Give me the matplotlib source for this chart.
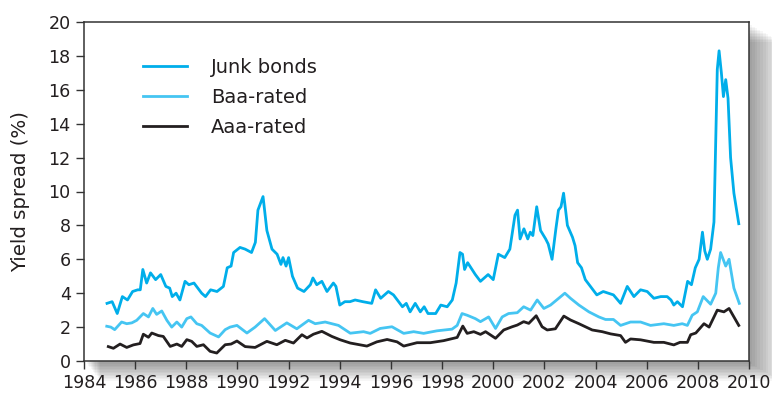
import matplotlib
matplotlib.use('Agg')
import matplotlib.pyplot as plt
from matplotlib.patches import Rectangle

# yield spreads (year, percent)
junk_years = [1984.9, 1985.1, 1985.3, 1985.5, 1985.7, 1985.9, 1986.1, 1986.2, 1986.3, 1986.45,
              1986.6, 1986.8, 1987.0, 1987.2, 1987.35, 1987.45, 1987.6, 1987.75, 1987.95, 1988.1,
              1988.3, 1988.6, 1988.75, 1988.95, 1989.2, 1989.45, 1989.6, 1989.75, 1989.85, 1990.1,
              1990.3, 1990.55, 1990.7, 1990.8, 1991.0, 1991.15, 1991.35, 1991.55, 1991.7, 1991.78,
              1991.9, 1992.0, 1992.15, 1992.35, 1992.6, 1992.85, 1992.95, 1993.1, 1993.3, 1993.5,
              1993.75, 1993.85, 1994.0, 1994.2, 1994.4, 1994.6, 1994.9, 1995.25, 1995.4, 1995.6,
              1995.9, 1996.1, 1996.45, 1996.6, 1996.75, 1996.95, 1997.15, 1997.3, 1997.45, 1997.75,
              1997.95, 1998.2, 1998.4, 1998.55, 1998.7, 1998.8, 1998.88, 1999.0, 1999.3, 1999.5,
              1999.8, 2000.0, 2000.2, 2000.45, 2000.65, 2000.85, 2000.95, 2001.05, 2001.2, 2001.35,
              2001.45, 2001.55, 2001.7, 2001.85, 2002.05, 2002.15, 2002.3, 2002.45, 2002.55, 2002.65,
              2002.75, 2002.9, 2003.1, 2003.2, 2003.3, 2003.45, 2003.6, 2003.9, 2004.05, 2004.3,
              2004.5, 2004.7, 2004.98, 2005.24, 2005.5, 2005.76, 2006.02, 2006.28, 2006.55, 2006.8,
              2006.95, 2007.06, 2007.2, 2007.4, 2007.6, 2007.75, 2007.9, 2008.05, 2008.18, 2008.27,
              2008.37, 2008.5, 2008.63, 2008.76, 2008.83, 2008.92, 2009.0, 2009.09, 2009.18, 2009.28,
              2009.41, 2009.6]
junk = [3.4, 3.5, 2.8, 3.8, 3.6, 4.1, 4.2, 4.2, 5.4, 4.6,
        5.2, 4.8, 5.1, 4.4, 4.3, 3.8, 4.0, 3.6, 4.7, 4.5,
        4.6, 4.0, 3.8, 4.2, 4.1, 4.4, 5.5, 5.6, 6.4, 6.7,
        6.6, 6.4, 7.0, 8.9, 9.7, 7.7, 6.6, 6.3, 5.7, 6.1,
        5.6, 6.1, 5.0, 4.3, 4.1, 4.5, 4.9, 4.5, 4.7, 4.1,
        4.6, 4.4, 3.3, 3.5, 3.5, 3.6, 3.5, 3.4, 4.2, 3.7,
        4.1, 3.9, 3.2, 3.4, 2.9, 3.4, 2.9, 3.2, 2.8, 2.8,
        3.3, 3.2, 3.6, 4.6, 6.4, 6.3, 5.4, 5.8, 5.1, 4.7,
        5.1, 4.8, 6.3, 6.1, 6.6, 8.6, 8.9, 7.2, 7.8, 7.2,
        7.6, 7.4, 9.1, 7.7, 7.2, 6.9, 6.0, 7.8, 8.9, 9.1,
        9.9, 8.0, 7.3, 6.8, 5.8, 5.5, 4.8, 4.2, 3.9, 4.1,
        4.0, 3.9, 3.4, 4.4, 3.8, 4.2, 4.1, 3.7, 3.8, 3.8,
        3.6, 3.3, 3.5, 3.2, 4.7, 4.5, 5.5, 6.0, 7.6, 6.5,
        6.0, 6.6, 8.2, 17.2, 18.3, 17.0, 15.6, 16.6, 15.5, 12.0,
        9.9, 8.1]

baa_years = [1984.89, 1985.05, 1985.2, 1985.47, 1985.67, 1985.87, 1986.06, 1986.32, 1986.52, 1986.69,
             1986.84, 1987.04, 1987.24, 1987.43, 1987.63, 1987.82, 1988.02, 1988.18, 1988.41, 1988.6,
             1988.93, 1989.26, 1989.52, 1989.71, 1989.98, 1990.37, 1990.69, 1991.06, 1991.48, 1991.93,
             1992.32, 1992.78, 1993.04, 1993.43, 1993.95, 1994.41, 1994.93, 1995.19, 1995.58, 1996.04,
             1996.5, 1996.89, 1997.28, 1997.8, 1998.39, 1998.59, 1998.78, 1998.98, 1999.3, 1999.5,
             1999.82, 2000.09, 2000.35, 2000.6, 2000.94, 2001.19, 2001.46, 2001.72, 2001.98, 2002.24,
             2002.56, 2002.8, 2003.02, 2003.35, 2003.74, 2004.13, 2004.39, 2004.7, 2004.98, 2005.37,
             2005.76, 2006.15, 2006.67, 2007.06, 2007.39, 2007.59, 2007.78, 2007.98, 2008.21, 2008.5,
             2008.7, 2008.8, 2008.89, 2009.09, 2009.22, 2009.41, 2009.62]
baa = [2.05, 2.0, 1.85, 2.3, 2.2, 2.25, 2.4, 2.8, 2.6, 3.1,
       2.75, 2.95, 2.4, 2.0, 2.3, 2.0, 2.5, 2.6, 2.2, 2.1,
       1.65, 1.42, 1.85, 2.0, 2.1, 1.65, 2.0, 2.5, 1.8, 2.25,
       1.9, 2.4, 2.2, 2.3, 2.1, 1.64, 1.73, 1.63, 1.92, 2.02,
       1.63, 1.73, 1.63, 1.78, 1.88, 2.1, 2.8, 2.7, 2.5, 2.32,
       2.6, 1.92, 2.6, 2.8, 2.85, 3.2, 3.0, 3.6, 3.1, 3.3,
       3.7, 4.0, 3.7, 3.3, 2.9, 2.6, 2.45, 2.45, 2.1, 2.3,
       2.3, 2.1, 2.2, 2.1, 2.2, 2.1, 2.7, 2.9, 3.8, 3.35,
       4.0, 5.5, 6.4, 5.6, 6.0, 4.3, 3.4]

aaa_years = [1984.95, 1985.15, 1985.41, 1985.67, 1985.93, 1986.19, 1986.32, 1986.52, 1986.65, 1986.91,
             1987.1, 1987.37, 1987.63, 1987.82, 1988.02, 1988.21, 1988.41, 1988.67, 1988.93, 1989.19,
             1989.52, 1989.75, 1989.98, 1990.3, 1990.69, 1991.15, 1991.54, 1991.87, 1992.19, 1992.52,
             1992.72, 1992.97, 1993.3, 1993.69, 1994.02, 1994.41, 1995.06, 1995.45, 1995.85, 1996.24,
             1996.5, 1997.02, 1997.54, 1998.06, 1998.59, 1998.81, 1998.98, 1999.24, 1999.5, 1999.7,
             2000.09, 2000.41, 2000.74, 2000.94, 2001.19, 2001.39, 2001.68, 2001.91, 2002.11, 2002.43,
             2002.76, 2003.02, 2003.35, 2003.87, 2004.26, 2004.59, 2004.98, 2005.17, 2005.37, 2005.76,
             2006.28, 2006.67, 2007.06, 2007.3, 2007.59, 2007.72, 2007.92, 2008.24, 2008.44, 2008.76,
             2009.02, 2009.22, 2009.41, 2009.6]
aaa = [0.85, 0.75, 1.0, 0.8, 0.95, 1.03, 1.58, 1.4, 1.65, 1.5,
       1.45, 0.86, 1.0, 0.86, 1.26, 1.16, 0.86, 0.96, 0.57, 0.47,
       0.96, 1.0, 1.18, 0.85, 0.8, 1.16, 0.96, 1.22, 1.06, 1.55,
       1.36, 1.58, 1.75, 1.45, 1.25, 1.06, 0.88, 1.13, 1.27, 1.13,
       0.88, 1.08, 1.08, 1.2, 1.39, 2.06, 1.63, 1.73, 1.57, 1.73,
       1.34, 1.83, 2.02, 2.12, 2.32, 2.22, 2.67, 2.02, 1.83, 1.9,
       2.65, 2.42, 2.2, 1.83, 1.73, 1.6, 1.5, 1.1, 1.3, 1.25,
       1.1, 1.1, 0.95, 1.1, 1.1, 1.55, 1.65, 2.2, 2.0, 3.0,
       2.9, 3.1, 2.6, 2.1]

xticks = list(range(1984, 2011, 2))
yticks = list(range(0, 21, 2))

plt.rcParams['font.family'] = ['DejaVu Sans']

fig = plt.figure(figsize=(7.72, 3.98), dpi=100)
ax = fig.add_axes([84/772, 37/398, 665/772, 339/398])

# soft drop shadow behind the frame
W, H = 772, 398
for i in range(12):
    r = Rectangle(((84 + 3 + 1.2*i)/W, (37 - 3 - 1.5*i)/H), (665 + 1.5*i)/W, 339/H,
                  transform=fig.transFigure, facecolor='#000000', alpha=0.035,
                  edgecolor='none', zorder=-10)
    fig.patches.append(r)

ax.plot(junk_years, junk, color='#00aeea', lw=2.0, solid_joinstyle='round', label='Junk bonds')
ax.plot(baa_years, baa, color='#45c5f2', lw=2.0, solid_joinstyle='round', label='Baa-rated')
ax.plot(aaa_years, aaa, color='#231f20', lw=2.0, solid_joinstyle='round', label='Aaa-rated')

ax.set_xlim(1984, 2010)
ax.set_ylim(0, 20)
ax.set_xticks(xticks)
ax.set_yticks(yticks)
ax.tick_params(direction='out', length=6, width=1, colors='#333333', labelsize=12.6,
               labelcolor='#231f20', top=False, right=False)
ax.set_ylabel('Yield spread (%)', fontsize=14.2, color='#231f20', labelpad=13)
for s in ax.spines.values():
    s.set_color('#333333')
    s.set_linewidth(1.1)

ax.legend(loc='upper left', bbox_to_anchor=(0.062, 0.946), frameon=False, fontsize=14,
          handlelength=2.3, handletextpad=1.2, labelspacing=0.56, labelcolor='#231f20')

fig.savefig('out.png', dpi=100)
